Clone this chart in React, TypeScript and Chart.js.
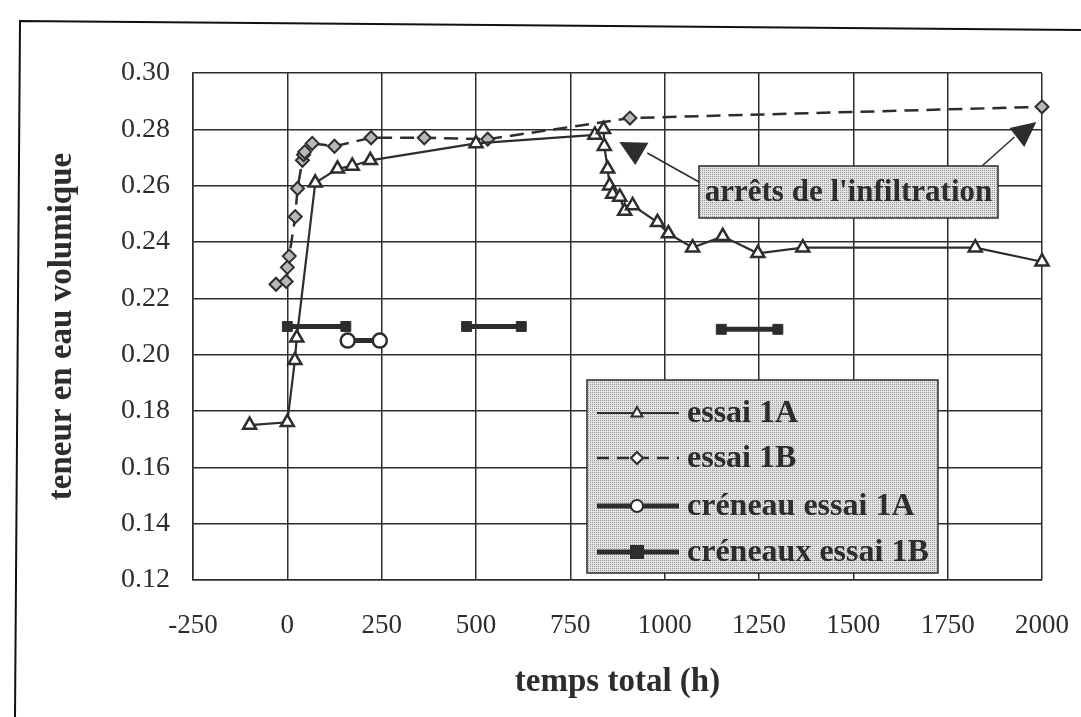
import React, { useEffect, useRef } from 'react';
import { Chart, registerables } from 'chart.js';

Chart.register(...registerables);

// ---- data ----
const hours1A = [-100, 0, 20, 25, 74, 133, 172, 220, 500, 815, 838, 840, 849, 854, 862, 881, 894, 915, 981, 1010, 1074, 1154, 1247, 1366, 1823, 2000];
const teneur1A = [0.175, 0.176, 0.198, 0.206, 0.261, 0.266, 0.267, 0.269, 0.275, 0.278, 0.280, 0.274, 0.266, 0.260, 0.257, 0.256, 0.251, 0.253, 0.247, 0.243, 0.238, 0.242, 0.236, 0.238, 0.238, 0.233];

const hours1B = [-30, -3, 0, 5, 21, 27, 40, 43, 46, 66, 125, 222, 363, 531, 908, 2000];
const teneur1B = [0.225, 0.226, 0.231, 0.235, 0.249, 0.259, 0.269, 0.271, 0.272, 0.275, 0.274, 0.277, 0.277, 0.2765, 0.284, 0.288];

const hoursCreneau1A = [160, 245];
const teneurCreneau1A = [0.205, 0.205];

const hoursCreneaux1B = [0, 155, null, 475, 620, null, 1150, 1300];
const teneurCreneaux1B = [0.21, 0.21, null, 0.21, 0.21, null, 0.209, 0.209];

const xTickValues = [-250, 0, 250, 500, 750, 1000, 1250, 1500, 1750, 2000];
const yTickValues = [0.12, 0.14, 0.16, 0.18, 0.2, 0.22, 0.24, 0.26, 0.28, 0.3];

const seriesLabels = ['essai 1A', 'essai 1B', 'créneau essai 1A', 'créneaux essai 1B'];
const annotationText = "arrêts de l'infiltration";
const xTitle = 'temps total (h)';
const yTitle = 'teneur en eau volumique';

// arrow heads / line ends of the annotation, in data units (h, teneur)
const arrowLeftHead = [[880, 0.2755], [957, 0.2752], [922, 0.2673]];
const arrowLeftLineEnd = [954, 0.2716];
const arrowRightHead = [[1914, 0.2805], [1985, 0.2826], [1953, 0.2737]];
const arrowRightLineEnd = [1927, 0.2773];

const INK = '#2b2e2d';
const SERIF = '"Liberation Serif", "Times New Roman", serif';

function toPoints(xs: (number | null)[], ys: (number | null)[]) {
  return xs.map((x, i) => ({ x: x === null ? (xs[i - 1] as number) + 1 : x, y: ys[i] }));
}

function makePattern(ctx: CanvasRenderingContext2D) {
  const c = document.createElement('canvas');
  c.width = 2;
  c.height = 2;
  const p = c.getContext('2d')!;
  p.fillStyle = '#e2e2e2';
  p.fillRect(0, 0, 2, 2);
  p.fillStyle = '#9a9a9a';
  p.fillRect(0, 0, 1, 1);
  return ctx.createPattern(c, 'repeat');
}

const decorPlugin = {
  id: 'decor',
  beforeDraw(chart: any) {
    const ctx = chart.ctx as CanvasRenderingContext2D;
    ctx.save();
    ctx.fillStyle = '#ffffff';
    ctx.fillRect(0, 0, chart.width, chart.height);
    ctx.strokeStyle = '#111';
    ctx.lineWidth = 2;
    ctx.beginPath();
    ctx.moveTo(15, 717);
    ctx.lineTo(20, 21);
    ctx.lineTo(1081, 30);
    ctx.stroke();
    ctx.restore();
  },
  afterDatasetsDraw(chart: any) {
    const ctx = chart.ctx as CanvasRenderingContext2D;
    const xs = chart.scales.x;
    const ys = chart.scales.y;
    const px = (p: number[]) => [xs.getPixelForValue(p[0]), ys.getPixelForValue(p[1])];
    const pattern = makePattern(ctx);

    ctx.save();
    // ---- annotation box ----
    const bx = 699, by = 166, bw = 299, bh = 52;
    ctx.strokeStyle = INK;
    ctx.fillStyle = INK;
    ctx.lineWidth = 1.5;
    const l1 = px(arrowLeftLineEnd);
    ctx.beginPath();
    ctx.moveTo(bx, by + 16);
    ctx.lineTo(l1[0], l1[1]);
    ctx.stroke();
    ctx.beginPath();
    arrowLeftHead.forEach((p, i) => {
      const q = px(p);
      if (i === 0) ctx.moveTo(q[0], q[1]);
      else ctx.lineTo(q[0], q[1]);
    });
    ctx.closePath();
    ctx.fill();
    const l2 = px(arrowRightLineEnd);
    ctx.beginPath();
    ctx.moveTo(bx + 283, by);
    ctx.lineTo(l2[0], l2[1]);
    ctx.stroke();
    ctx.beginPath();
    arrowRightHead.forEach((p, i) => {
      const q = px(p);
      if (i === 0) ctx.moveTo(q[0], q[1]);
      else ctx.lineTo(q[0], q[1]);
    });
    ctx.closePath();
    ctx.fill();

    ctx.fillStyle = pattern as any;
    ctx.fillRect(bx, by, bw, bh);
    ctx.lineWidth = 1.5;
    ctx.strokeStyle = INK;
    ctx.strokeRect(bx, by, bw, bh);
    ctx.fillStyle = INK;
    ctx.font = `bold 31px ${SERIF}`;
    ctx.textAlign = 'center';
    ctx.textBaseline = 'middle';
    ctx.fillText(annotationText, bx + bw / 2, by + bh / 2 + 1);

    // ---- legend ----
    const lx = 587, ly = 380, lw = 351, lh = 193;
    ctx.fillStyle = pattern as any;
    ctx.fillRect(lx, ly, lw, lh);
    ctx.strokeRect(lx, ly, lw, lh);
    const rows = [413, 458, 506, 552];
    const sx0 = 597, sx1 = 679, smid = 637;
    rows.forEach((ry, i) => {
      ctx.save();
      ctx.strokeStyle = INK;
      if (i === 0) {
        ctx.lineWidth = 2;
      } else if (i === 1) {
        ctx.lineWidth = 2.5;
        ctx.setLineDash([12, 8]);
      } else {
        ctx.lineWidth = 5;
      }
      ctx.beginPath();
      ctx.moveTo(sx0, ry);
      ctx.lineTo(sx1, ry);
      ctx.stroke();
      ctx.setLineDash([]);
      ctx.lineWidth = 2;
      ctx.beginPath();
      if (i === 0) {
        const r = 6;
        ctx.moveTo(smid, ry - r);
        ctx.lineTo(smid + r * 0.9, ry + r * 0.6);
        ctx.lineTo(smid - r * 0.9, ry + r * 0.6);
        ctx.closePath();
        ctx.fillStyle = '#fff';
        ctx.fill();
        ctx.stroke();
      } else if (i === 1) {
        const r = 6;
        ctx.moveTo(smid, ry - r);
        ctx.lineTo(smid + r, ry);
        ctx.lineTo(smid, ry + r);
        ctx.lineTo(smid - r, ry);
        ctx.closePath();
        ctx.fillStyle = '#fff';
        ctx.fill();
        ctx.stroke();
      } else if (i === 2) {
        ctx.arc(smid, ry, 6, 0, Math.PI * 2);
        ctx.fillStyle = '#fff';
        ctx.fill();
        ctx.stroke();
      } else {
        ctx.fillStyle = INK;
        ctx.fillRect(smid - 7, ry - 7, 14, 14);
      }
      ctx.restore();
      ctx.fillStyle = INK;
      ctx.font = `bold 32px ${SERIF}`;
      ctx.textAlign = 'left';
      ctx.textBaseline = 'middle';
      ctx.fillText(seriesLabels[i], 687, ry + 1);
    });
    ctx.restore();
  },
};

export default function App() {
  const ref = useRef<HTMLCanvasElement>(null);
  useEffect(() => {
    document.body.style.margin = '0';
    const canvas = ref.current!;
    const chart = new Chart(canvas, {
      type: 'scatter',
      data: {
        datasets: [
          {
            label: seriesLabels[0],
            data: toPoints(hours1A, teneur1A),
            showLine: true,
            clip: false,
            borderColor: INK,
            borderWidth: 2.2,
            pointStyle: 'triangle',
            pointRadius: 7.5,
            pointBorderWidth: 2.5,
            pointBackgroundColor: '#ffffff',
            pointBorderColor: INK,
            order: 1,
          },
          {
            label: seriesLabels[1],
            data: toPoints(hours1B, teneur1B),
            showLine: true,
            clip: false,
            borderColor: INK,
            borderWidth: 2.5,
            borderDash: [14, 8],
            pointStyle: 'rectRot',
            pointRadius: 6.5,
            pointBorderWidth: 2,
            pointBackgroundColor: '#b8b8b8',
            pointBorderColor: INK,
            order: 2,
          },
          {
            label: seriesLabels[2],
            data: toPoints(hoursCreneau1A, teneurCreneau1A),
            showLine: true,
            clip: false,
            borderColor: INK,
            borderWidth: 5,
            pointStyle: 'circle',
            pointRadius: 7,
            pointBorderWidth: 2.5,
            pointBackgroundColor: '#ffffff',
            pointBorderColor: INK,
            order: 3,
          },
          {
            label: seriesLabels[3],
            data: toPoints(hoursCreneaux1B, teneurCreneaux1B),
            showLine: true,
            clip: false,
            spanGaps: false,
            borderColor: INK,
            borderWidth: 5,
            pointStyle: 'rect',
            pointRadius: 7,
            pointBorderWidth: 1,
            pointBackgroundColor: INK,
            pointBorderColor: INK,
            order: 4,
          },
        ],
      },
      options: {
        responsive: false,
        devicePixelRatio: 1,
        animation: false,
        layout: { padding: { left: 0, top: 73, right: 39, bottom: 0 } },
        plugins: {
          legend: { display: false },
          tooltip: { enabled: false },
        },
        scales: {
          x: {
            type: 'linear',
            min: xTickValues[0],
            max: xTickValues[xTickValues.length - 1],
            afterBuildTicks: (s: any) => {
              s.ticks = xTickValues.map((v) => ({ value: v }));
            },
            afterFit: (s: any) => {
              s.height = 137;
              s.paddingLeft = 0;
              s.paddingRight = 0;
            },
            ticks: {
              color: INK,
              font: { family: SERIF, size: 27 },
              padding: 30,
              maxRotation: 0,
              autoSkip: false,
              callback: (v: any) => String(v),
            },
            grid: { color: INK, lineWidth: 1.5, drawTicks: false },
            border: { display: true, color: INK, width: 1.5 },
            title: {
              display: true,
              text: xTitle,
              color: INK,
              font: { family: SERIF, size: 33, weight: 'bold' },
              padding: { top: 0, bottom: 15 },
            },
          },
          y: {
            type: 'linear',
            min: yTickValues[0],
            max: yTickValues[yTickValues.length - 1],
            afterBuildTicks: (s: any) => {
              s.ticks = yTickValues.map((v) => ({ value: v }));
            },
            afterFit: (s: any) => {
              s.width = 193;
              s.paddingTop = 0;
              s.paddingBottom = 0;
            },
            ticks: {
              color: INK,
              font: { family: SERIF, size: 28 },
              padding: 23,
              autoSkip: false,
              callback: (v: any) => Number(v).toFixed(2),
            },
            grid: { color: INK, lineWidth: 1.5, drawTicks: false },
            border: { display: true, color: INK, width: 1.5 },
            title: {
              display: true,
              text: yTitle,
              color: INK,
              font: { family: SERIF, size: 33, weight: 'bold' },
              padding: { top: 43, bottom: 0 },
            },
          },
        },
      },
      plugins: [decorPlugin],
    } as any);
    return () => chart.destroy();
  }, []);
  return (
    <div style={{ width: 1081, height: 717 }}>
      <canvas ref={ref} width={1081} height={717} style={{ display: 'block' }} />
    </div>
  );
}
